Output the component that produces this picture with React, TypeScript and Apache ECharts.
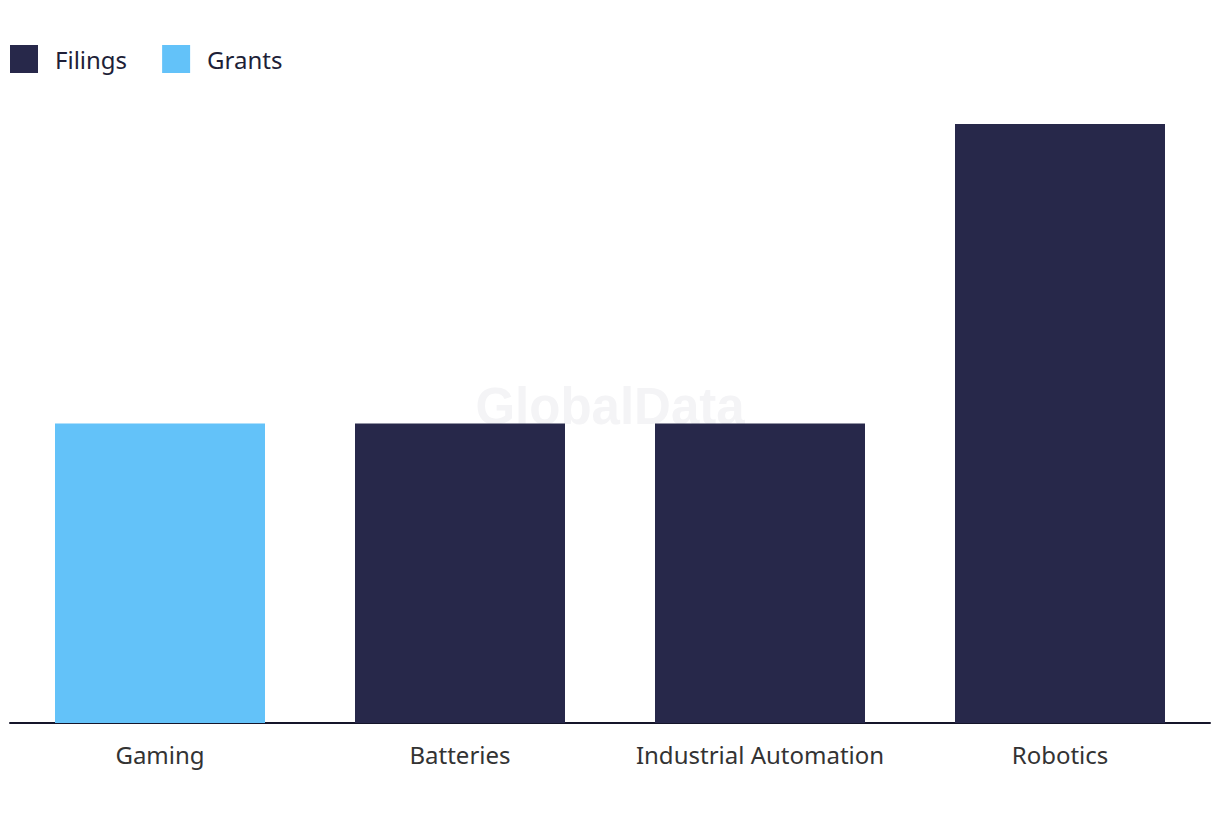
import React, { useEffect, useRef } from "react";
import * as echarts from "echarts";

const categories = ["Gaming", "Batteries", "Industrial Automation", "Robotics"];
const filings = [null, 1, 1, 2];
const grants = [1, null, null, null];

export default function App() {
  const ref = useRef<HTMLDivElement>(null);
  useEffect(() => {
    const chart = echarts.init(ref.current!, null, { renderer: "svg" });
    const font = "'Noto Sans', Inter, sans-serif";
    chart.setOption({
      animation: false,
      backgroundColor: "#ffffff",
      graphic: [
        {
          type: "text",
          left: "center",
          top: 381,
          z: 0,
          style: {
            text: "GlobalData",
            fontSize: 51,
            fontWeight: "bold",
            fontFamily: "'Liberation Sans', Arial, sans-serif",
            fill: "#f4f4f6",
          },
        },
      ],
      legend: {
        left: 5,
        top: 40,
        itemWidth: 28,
        itemHeight: 28,
        itemGap: 35,
        icon: "rect",
        textStyle: {
          fontSize: 24,
          color: "#1e1f38",
          fontFamily: font,
          padding: [0, 0, 5, 12],
        },
        data: ["Filings", "Grants"],
      },
      grid: { left: 10, right: 10, top: 124, bottom: 97, containLabel: false },
      xAxis: {
        type: "category",
        data: categories,
        axisLine: { show: true, lineStyle: { color: "#15152a", width: 2 } },
        axisTick: { show: false },
        axisLabel: {
          fontSize: 24,
          color: "#333333",
          fontFamily: font,
          margin: 19,
          interval: 0,
        },
      },
      yAxis: {
        type: "value",
        min: 0,
        max: 2,
        show: false,
        splitLine: { show: false },
      },
      series: [
        {
          name: "Filings",
          type: "bar",
          stack: "total",
          barWidth: "70%",
          data: filings,
          itemStyle: { color: "#27284a" },
          z: 2,
        },
        {
          name: "Grants",
          type: "bar",
          stack: "total",
          barWidth: "70%",
          data: grants,
          itemStyle: { color: "#63c2f9" },
          z: 2,
        },
      ],
    });
    return () => chart.dispose();
  }, []);
  return (
    <div
      ref={ref}
      style={{ position: "absolute", left: 0, top: 0, width: 1220, height: 820 }}
    />
  );
}
